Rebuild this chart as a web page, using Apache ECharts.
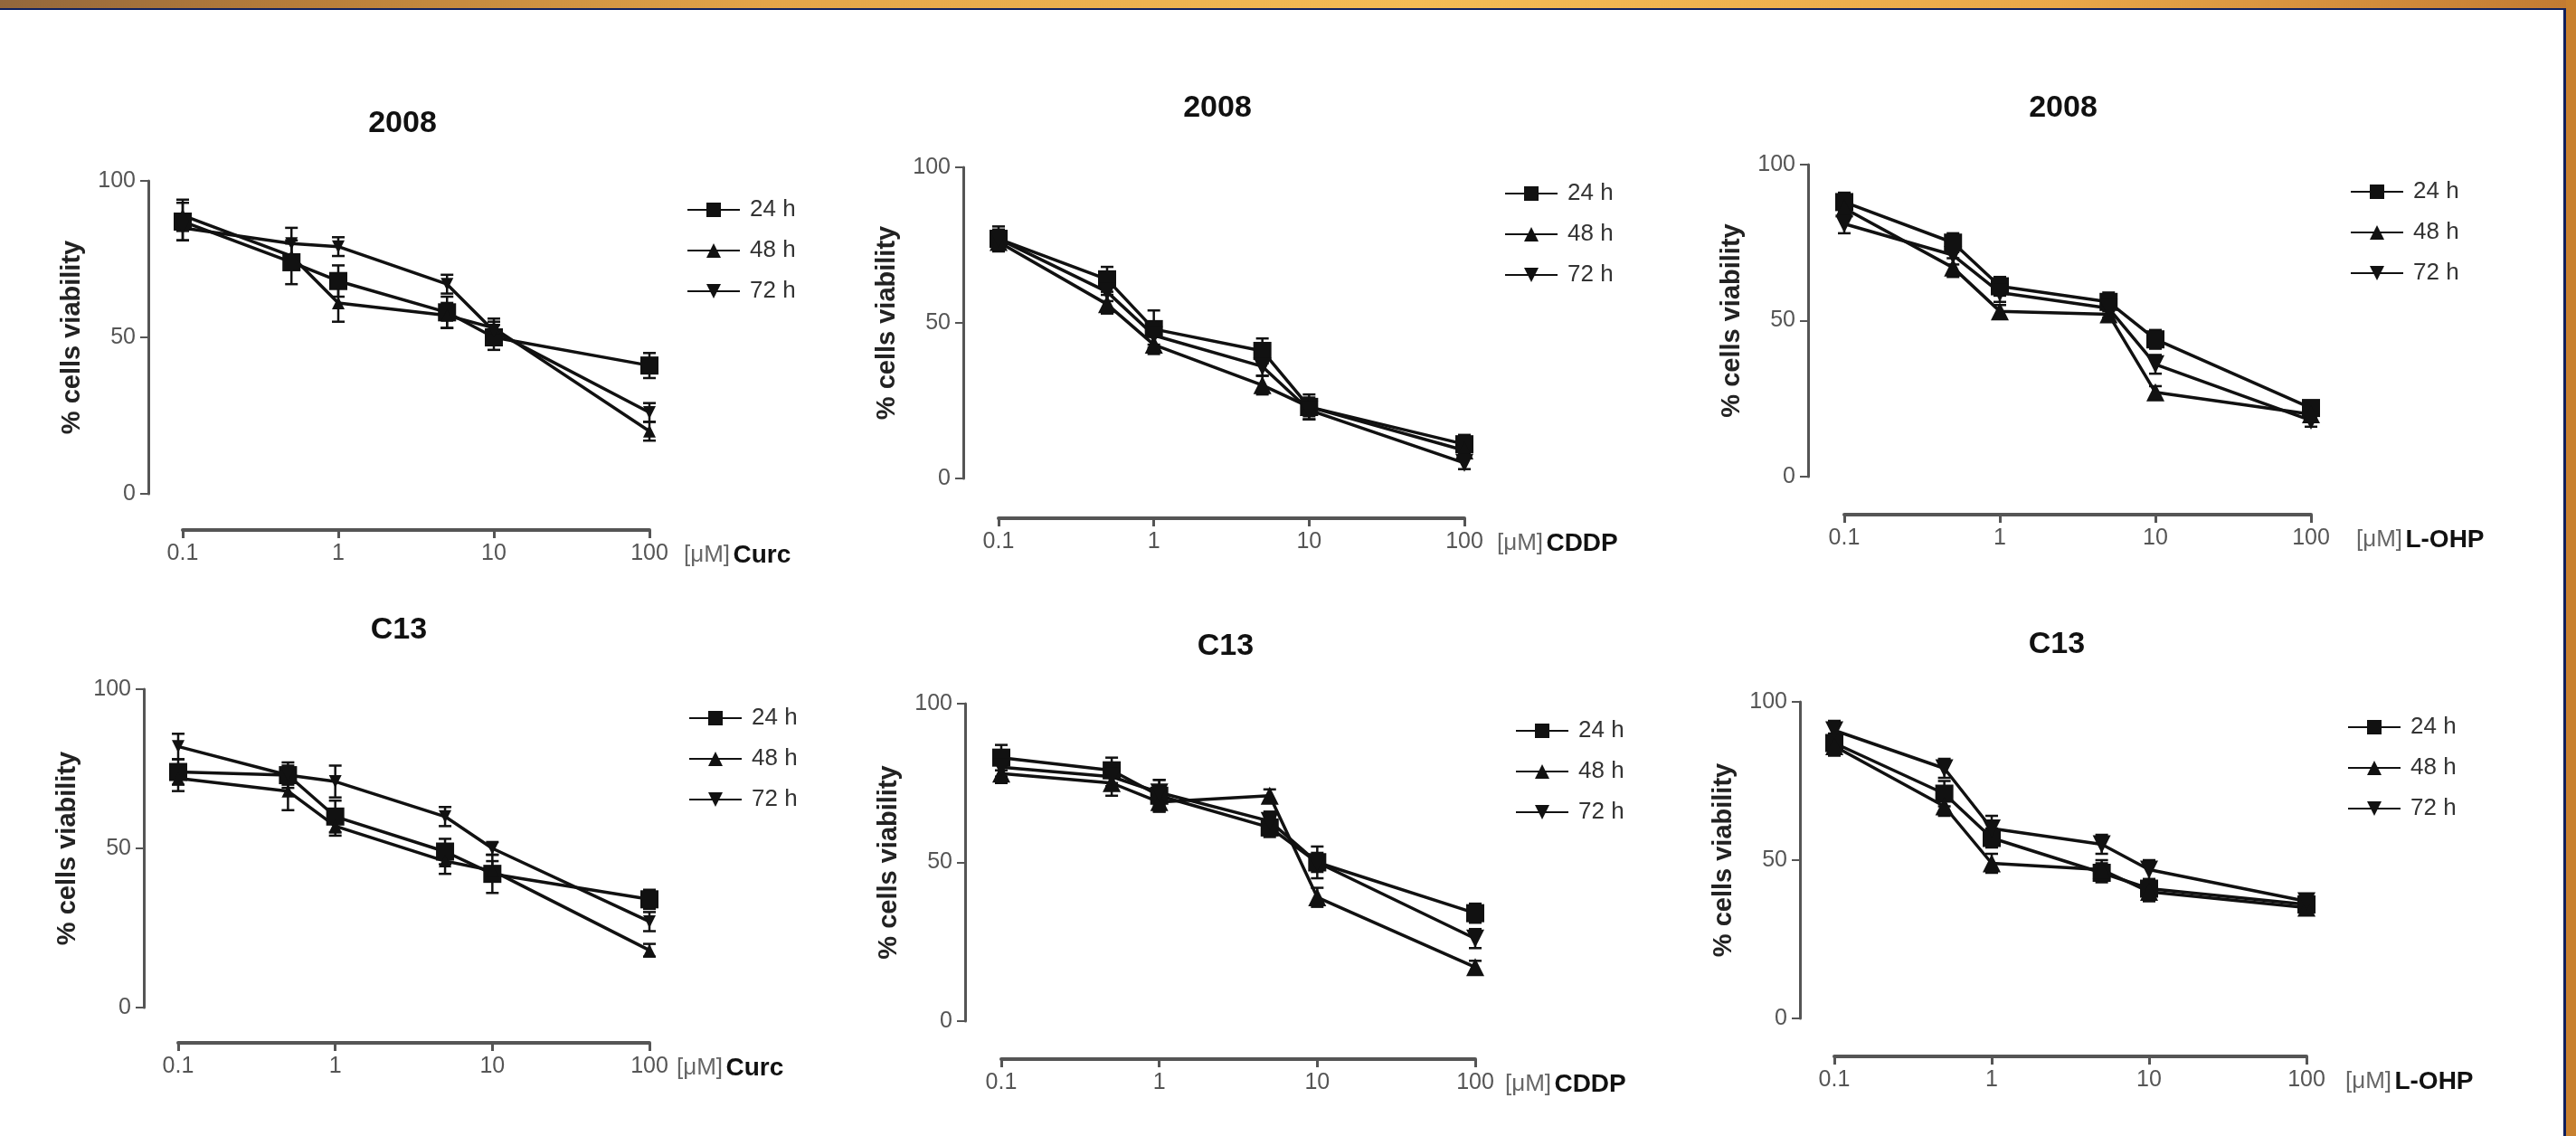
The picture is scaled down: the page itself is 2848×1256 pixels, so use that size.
<!DOCTYPE html>
<html>
<head>
<meta charset="utf-8">
<title>Cell viability</title>
<script src="https://cdn.jsdelivr.net/npm/echarts@6/dist/echarts.min.js"></script>
<style>
  html, body { margin: 0; padding: 0; background: #fff; }
  #main { width: 2848px; height: 1256px; }
</style>
</head>
<body>
<div id="main"></div>
<script>
// doses in µM and labels
const doses = [0.1, 0.5, 1, 5, 10, 100];
const doseTicks = ['0.1', '1', '10', '100'];
const times = ['24 h', '48 h', '72 h'];
const cellLines = ['2008', '2008', '2008', 'C13', 'C13', 'C13'];
const drugs = ['Curc', 'CDDP', 'L-OHP', 'Curc', 'CDDP', 'L-OHP'];
const yTicks = [0, 50, 100];

// % cells viability, rows: 24 h, 48 h, 72 h
const v2008Curc = [[87, 74, 68, 58, 50, 41], [89, 76, 61, 57, 53, 20], [85, 80, 79, 67, 52, 26]];
const v2008Cddp = [[77, 64, 48, 41, 23, 11], [76, 56, 43, 30, 23, 9], [77, 60, 46, 36, 22, 5]];
const v2008Lohp = [[88, 75, 61, 56, 44, 22], [86, 67, 53, 52, 27, 20], [81, 71, 59, 54, 36, 18]];
const vC13Curc = [[74, 73, 60, 49, 42, 34], [72, 68, 57, 46, 43, 18], [82, 73, 71, 60, 50, 27]];
const vC13Cddp = [[83, 79, 71, 61, 50, 34], [78, 75, 69, 71, 39, 17], [80, 77, 72, 63, 50, 26]];
const vC13Lohp = [[87, 71, 57, 46, 41, 36], [86, 67, 49, 47, 40, 35], [91, 79, 60, 55, 47, 37]];

// error bars (±)
const e2008Curc = [[6, 7, 5, 5, 4, 4], [5, 4, 6, 4, 3, 3], [4, 5, 3, 3, 3, 3]];
const e2008Cddp = [[4, 4, 6, 4, 3, 3], [3, 3, 3, 3, 4, 2], [3, 3, 3, 3, 3, 2]];
const e2008Lohp = [[3, 3, 3, 3, 3, 2], [3, 3, 2, 2, 2, 2], [3, 3, 3, 3, 3, 2]];
const eC13Curc = [[4, 3, 5, 4, 6, 3], [4, 6, 3, 4, 3, 2], [4, 4, 5, 3, 2, 3]];
const eC13Cddp = [[4, 4, 5, 3, 5, 3], [3, 4, 3, 2, 3, 2], [3, 3, 4, 3, 3, 3]];
const eC13Lohp = [[3, 4, 3, 3, 3, 2], [3, 3, 3, 3, 3, 2], [3, 3, 4, 3, 3, 2]];

const values = [v2008Curc, v2008Cddp, v2008Lohp, vC13Curc, vC13Cddp, vC13Lohp];
const errors = [e2008Curc, e2008Cddp, e2008Lohp, eC13Curc, eC13Cddp, eC13Lohp];

const FONT = "'Liberation Sans', Arial, sans-serif";
const symbols = ['rect', 'triangle', 'triangle'];
const rotates = [0, 0, 180];

// panel placement on the page
const layout = [
  {left: 202, top: 200, w: 516, h: 346, yOff: 38, xOff: 40, tx: 445, ty: 137, lx: 754, ly: 214, gap: 38},
  {left: 1104, top: 185, w: 515, h: 344, yOff: 39, xOff: 44, tx: 1346, ty: 120, lx: 1658, ly: 196, gap: 36},
  {left: 2039, top: 182, w: 516, h: 345, yOff: 40, xOff: 42, tx: 2281, ty: 120, lx: 2593, ly: 194, gap: 50},
  {left: 197, top: 762, w: 521, h: 352, yOff: 38, xOff: 39, tx: 441, ty: 697, lx: 756, ly: 776, gap: 30},
  {left: 1107, top: 778, w: 524, h: 351, yOff: 40, xOff: 42, tx: 1355, ty: 715, lx: 1670, ly: 790, gap: 33},
  {left: 2028, top: 776, w: 522, h: 350, yOff: 38, xOff: 42, tx: 2274, ty: 713, lx: 2590, ly: 786, gap: 43}
];

function renderErr(params, api) {
  const x = api.value(0);
  const lo = api.coord([x, api.value(1)]);
  const hi = api.coord([x, api.value(2)]);
  const w = 7;
  const style = {stroke: '#111', lineWidth: 2.5};
  return {
    type: 'group',
    children: [
      {type: 'line', shape: {x1: lo[0], y1: lo[1], x2: hi[0], y2: hi[1]}, style: style},
      {type: 'line', shape: {x1: lo[0] - w, y1: lo[1], x2: lo[0] + w, y2: lo[1]}, style: style},
      {type: 'line', shape: {x1: hi[0] - w, y1: hi[1], x2: hi[0] + w, y2: hi[1]}, style: style}
    ]
  };
}

const grid = [], xAxis = [], yAxis = [], legend = [], series = [], graphic = [];

layout.forEach(function (p, i) {
  grid.push({left: p.left, top: p.top, width: p.w, height: p.h, outerBoundsMode: 'none'});

  xAxis.push({
    gridIndex: i, type: 'log', logBase: 10, min: 0.1, max: 100, offset: p.xOff,
    name: '{u|[μM]} {d|' + drugs[i] + '}', nameLocation: 'end', nameGap: p.gap, nameMoveOverlap: false,
    nameTextStyle: {
      align: 'left', verticalAlign: 'middle', padding: [56, 0, 0, 0],
      rich: {
        u: {fontSize: 26, color: '#666', fontFamily: FONT},
        d: {fontSize: 28, fontWeight: 'bold', color: '#111', fontFamily: FONT}
      }
    },
    axisLine: {show: true, onZero: false, lineStyle: {color: '#555', width: 4}},
    axisTick: {show: true, length: 9, lineStyle: {color: '#555', width: 3}},
    axisLabel: {
      margin: 14, fontSize: 25, color: '#555', fontFamily: FONT,
      formatter: function (v) {
        const k = Math.round(Math.log10(v)) + 1;
        return doseTicks[k] || '';
      }
    },
    splitLine: {show: false}, minorTick: {show: false}
  });

  yAxis.push({
    gridIndex: i, type: 'value', min: yTicks[0], max: yTicks[2], interval: 50, offset: p.yOff,
    name: '% cells viability', nameLocation: 'middle', nameRotate: 90, nameGap: 70, nameMoveOverlap: false,
    nameTextStyle: {fontSize: 29, fontWeight: 'bold', color: '#222', fontFamily: FONT},
    axisLine: {show: true, onZero: false, lineStyle: {color: '#555', width: 3}},
    axisTick: {show: true, length: 9, lineStyle: {color: '#555', width: 2}},
    axisLabel: {margin: 14, fontSize: 25, color: '#555', fontFamily: FONT},
    splitLine: {show: false}
  });

  const names = times.map(function (t) { return t + '#' + i; });
  legend.push({
    data: names, orient: 'vertical', left: p.lx, top: p.ly,
    itemWidth: 58, itemHeight: 20, itemGap: 19,
    formatter: function (n) { return n.split('#')[0]; },
    textStyle: {fontSize: 26, lineHeight: 26, color: '#333', fontFamily: FONT, padding: [0, 0, 0, 6]},
    selectedMode: false
  });

  const small = drugs[i] === 'Curc';
  times.forEach(function (t, s) {
    const vals = values[i][s];
    const errs = errors[i][s];
    series.push({
      type: 'custom', xAxisIndex: i, yAxisIndex: i, silent: true, z: 2,
      renderItem: renderErr,
      encode: {x: 0, y: [1, 2]},
      data: doses.map(function (d, k) { return [d, vals[k] - errs[k], vals[k] + errs[k]]; })
    });
    series.push({
      name: names[s], type: 'line', xAxisIndex: i, yAxisIndex: i, z: 3,
      symbol: symbols[s], symbolRotate: rotates[s],
      symbolSize: (small && s > 0) ? 14 : 20,
      showSymbol: true, animation: false,
      lineStyle: {color: '#111', width: 3.5},
      itemStyle: {color: '#111', borderWidth: 0},
      data: doses.map(function (d, k) { return [d, vals[k]]; })
    });
  });

  graphic.push({
    type: 'text', x: p.tx, y: p.ty, silent: true,
    style: {text: cellLines[i], align: 'center', verticalAlign: 'middle',
      font: 'bold 34px ' + FONT, fill: '#111'}
  });
});

// page frame: gradient band on top, border on the right
graphic.push(
  {type: 'rect', shape: {x: 0, y: 0, width: 2848, height: 9}, silent: true,
    style: {fill: new echarts.graphic.LinearGradient(0, 0, 1, 0, [
      {offset: 0, color: '#93673c'}, {offset: 0.12, color: '#b87e3a'},
      {offset: 0.3, color: '#e4a549'}, {offset: 0.55, color: '#f4bc55'},
      {offset: 0.8, color: '#eaa849'}, {offset: 1, color: '#c27a32'}])}},
  {type: 'rect', shape: {x: 0, y: 9, width: 2837, height: 2}, silent: true, style: {fill: '#0e1f5e'}},
  {type: 'rect', shape: {x: 2834, y: 9, width: 3, height: 1247}, silent: true, style: {fill: '#0e1f5e'}},
  {type: 'rect', shape: {x: 2837, y: 0, width: 11, height: 1256}, silent: true, style: {fill: '#c8802f'}}
);

const chart = echarts.init(document.getElementById('main'));
chart.setOption({
  backgroundColor: '#fff',
  animation: false,
  grid: grid,
  xAxis: xAxis,
  yAxis: yAxis,
  legend: legend,
  series: series,
  graphic: graphic
});
</script>
</body>
</html>
